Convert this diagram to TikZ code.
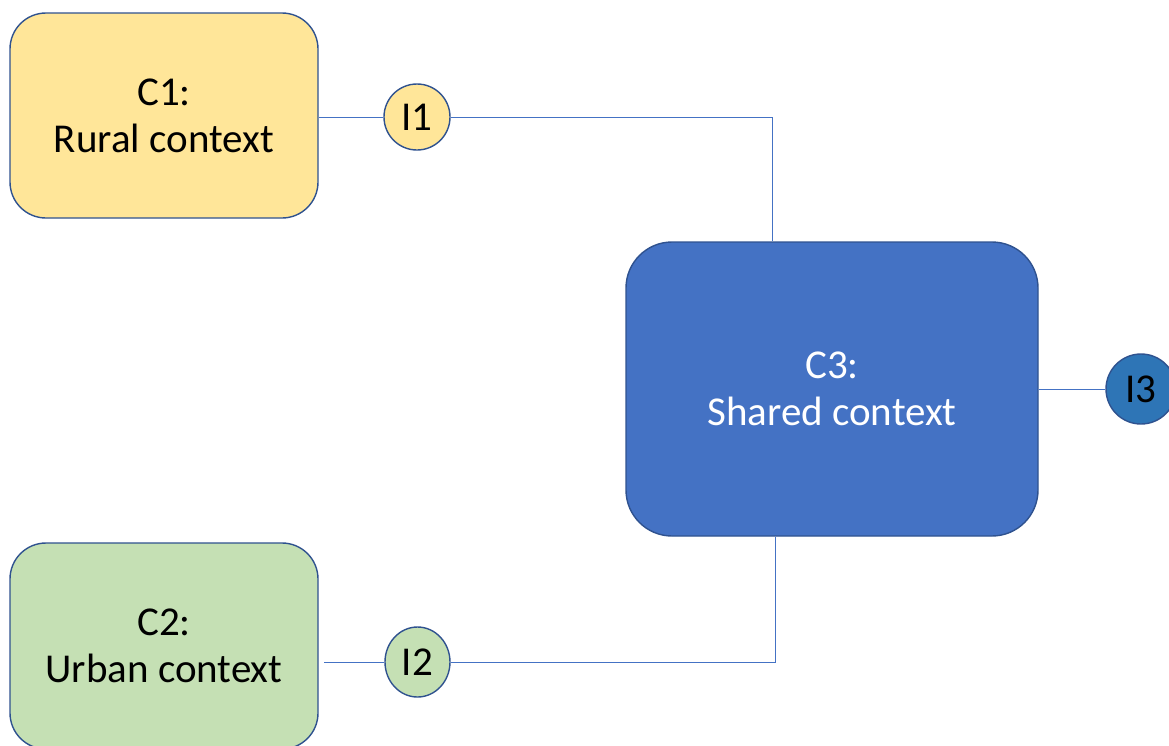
\documentclass[tikz,border=0pt]{standalone}
\usepackage{fontspec}
\usetikzlibrary{shapes.geometric}
\setmainfont{Carlito}
\definecolor{yel}{HTML}{FFE699}
\definecolor{grn}{HTML}{C5E0B4}
\definecolor{blu}{HTML}{4472C4}
\definecolor{blu2}{HTML}{2E75B6}
\definecolor{edge}{HTML}{2F528F}
\begin{document}
\begin{tikzpicture}[x=1pt,y=-1pt,
  ctx/.style={draw=edge, line width=1.4pt, rounded corners=#1, align=center, inner sep=0pt,
    font=\fontsize{41}{47}\selectfont},
  ind/.style={draw=edge, line width=1.4pt, circle, inner sep=0pt, minimum size=66pt,
    font=\fontsize{41}{47}\selectfont},
  conn/.style={draw=blu, line width=1pt}]
\useasboundingbox (0,0) rectangle (1169,745);
\node[ctx=36pt, fill=yel, minimum width=308pt, minimum height=205pt, text depth=-4pt] (c1) at (164,115.5) {C1:\\Rural context};
\node[ctx=36pt, fill=grn, minimum width=308pt, minimum height=206pt] (c2) at (164,646) {C2:\\Urban context};
\node[ctx=46pt, fill=blu, text=white, minimum width=412pt, minimum height=294pt] (c3) at (832,389) {C3:\\Shared context};
\node[ind, fill=yel] (i1) at (417,117) {I1};
\node[ind, ellipse, fill=grn, minimum width=65pt, minimum height=70pt] (i2) at (417.5,662) {I2};
\node[ind, fill=blu2, minimum size=70pt] (i3) at (1141,389) {I3};
\draw[conn] (i1.west) -- (i1.west -| c1.east);
\draw[conn] (i1.east) -| ([xshift=-60pt]c3.north);
\draw[conn] (i2.west) -- ([xshift=5pt]i2.west -| c2.east);
\draw[conn] (i2.east) -| ([xshift=-57pt]c3.south);
\draw[conn] (c3.east) -- (i3.west);
\end{tikzpicture}
\end{document}
